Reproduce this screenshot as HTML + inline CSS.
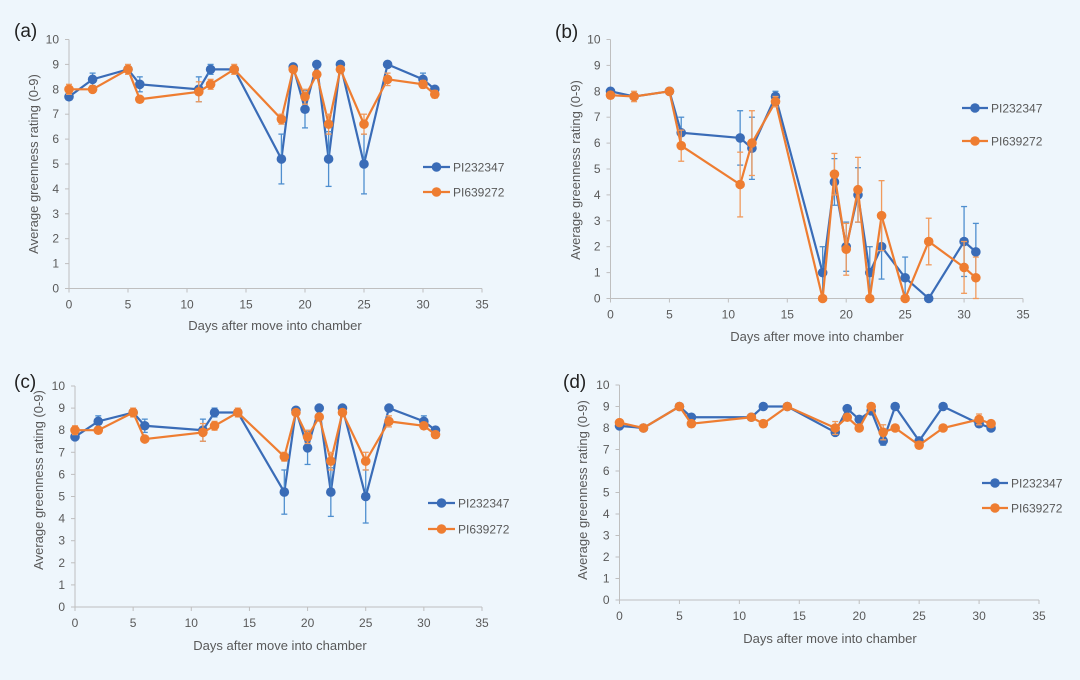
<!DOCTYPE html>
<html><head><meta charset="utf-8"><style>
html,body{margin:0;padding:0;background:#eef6fc;}
svg{display:block;font-family:"Liberation Sans",sans-serif;}
</style></head><body>
<svg id="fig" width="1080" height="680" viewBox="0 0 1080 680" xmlns="http://www.w3.org/2000/svg">
<rect width="1080" height="680" fill="#eef6fc"/>
</svg>
<script>
const days = [0,2,5,6,11,12,14,18,19,20,21,22,23,25,27,30,31];
const xTicks = [0,5,10,15,20,25,30,35];
const yTicks = [0,1,2,3,4,5,6,7,8,9,10];
const seriesNames = ["PI232347","PI639272"];
const aBlue = [7.7,8.4,8.8,8.2,8.0,8.8,8.8,5.2,8.9,7.2,9.0,5.2,9.0,5.0,9.0,8.4,8.0];
const aBlueErr = [0.1,0.25,0.1,0.3,0.5,0.2,0.1,1.0,0.1,0.75,0.1,1.1,0.1,1.2,0.1,0.25,0.1];
const aOrange = [8.0,8.0,8.8,7.6,7.9,8.2,8.8,6.8,8.8,7.7,8.6,6.6,8.8,6.6,8.4,8.2,7.8];
const aOrangeErr = [0.2,0.1,0.2,0.1,0.4,0.2,0.2,0.2,0.1,0.3,0.1,0.4,0.1,0.4,0.25,0.15,0.15];
const bBlue = [8.0,7.8,8.0,6.4,6.2,5.8,7.8,1.0,4.5,2.0,4.0,1.0,2.0,0.8,0,2.2,1.8];
const bBlueErr = [0.1,0.1,0.05,0.6,1.05,1.2,0.2,1.0,0.9,0.95,1.05,1.0,1.25,0.8,0,1.35,1.1];
const bOrange = [7.85,7.8,8.0,5.9,4.4,6.0,7.6,0,4.8,1.9,4.2,0,3.2,0,2.2,1.2,0.8];
const bOrangeErr = [0.05,0.2,0.05,0.6,1.25,1.25,0.2,0,0.8,1.0,1.25,0,1.35,0,0.9,1.0,0.8];
const cBlue = [7.7,8.4,8.8,8.2,8.0,8.8,8.8,5.2,8.9,7.2,9.0,5.2,9.0,5.0,9.0,8.4,8.0];
const cBlueErr = [0.1,0.25,0.1,0.3,0.5,0.2,0.1,1.0,0.1,0.75,0.1,1.1,0.1,1.2,0.1,0.25,0.1];
const cOrange = [8.0,8.0,8.8,7.6,7.9,8.2,8.8,6.8,8.8,7.7,8.6,6.6,8.8,6.6,8.4,8.2,7.8];
const cOrangeErr = [0.2,0.1,0.2,0.1,0.4,0.2,0.2,0.2,0.1,0.3,0.1,0.4,0.1,0.4,0.25,0.15,0.15];
const dBlue = [8.1,8.0,9.0,8.5,8.5,9.0,9.0,7.8,8.9,8.4,8.8,7.4,9.0,7.4,9.0,8.2,8.0];
const dBlueErr = [0.1,0.05,0.05,0.1,0.1,0.05,0.05,0.1,0.1,0.15,0.1,0.2,0.05,0.1,0.05,0.15,0.1];
const dOrange = [8.25,8.0,9.0,8.2,8.5,8.2,9.0,8.0,8.5,8.0,9.0,7.8,8.0,7.2,8.0,8.4,8.2];
const dOrangeErr = [0.1,0.05,0.05,0.1,0.1,0.15,0.05,0.3,0.15,0.15,0.05,0.35,0.05,0.15,0.05,0.25,0.15];

const NS="http://www.w3.org/2000/svg";
const svg=document.getElementById('fig');
function mk(tag,attrs,parent){const e=document.createElementNS(NS,tag);for(const k in attrs)e.setAttribute(k,attrs[k]);(parent||svg).appendChild(e);return e;}

const panels=[
 {id:'a',label:'(a)',lx:14,ly:37,x0:69,x35:482,y0:288.5,y10:39.5,blue:aBlue,be:aBlueErr,orange:aOrange,oe:aOrangeErr,leg:[423,450,167,192],xt:275,xty:330,ytx:38,yty:164},
 {id:'b',label:'(b)',lx:555,ly:38,x0:610.5,x35:1023,y0:298.5,y10:39.5,blue:bBlue,be:bBlueErr,orange:bOrange,oe:bOrangeErr,leg:[962,988,108,141],xt:817,xty:341,ytx:580,yty:170},
 {id:'c',label:'(c)',lx:14,ly:388,x0:75,x35:482,y0:607,y10:386,blue:cBlue,be:cBlueErr,orange:cOrange,oe:cOrangeErr,leg:[428,455,503,529],xt:280,xty:650,ytx:43,yty:480},
 {id:'d',label:'(d)',lx:563,ly:388,x0:619.5,x35:1039,y0:600,y10:385,blue:dBlue,be:dBlueErr,orange:dOrange,oe:dOrangeErr,leg:[982,1008,483,508],xt:830,xty:643,ytx:587,yty:490}
];
const BLUE='#3a6cb7', BLUEE='#4f8fcf', ORANGE='#ee7d31', ORANGEE='#f19a5c';

panels.forEach(p=>{
 const g=mk('g',{});
 
 
 const X=v=>p.x0+(p.x35-p.x0)*v/35;
 const Y=v=>p.y0-(p.y0-p.y10)*v/10;
 const t=mk('text',{x:p.lx,y:p.ly,'font-size':19,fill:'#222'},g);t.textContent=p.label;
 
 
 const ya=mk('line',{x1:p.x0,y1:p.y10,x2:p.x0,y2:p.y0,stroke:'#bfbfbf','stroke-width':1},g);
 
 
 const xa=mk('line',{x1:p.x0,y1:p.y0,x2:p.x35,y2:p.y0,stroke:'#bfbfbf','stroke-width':1},g);
 
 
 yTicks.forEach(v=>{
  mk('line',{x1:p.x0-4,y1:Y(v),x2:p.x0,y2:Y(v),stroke:'#bfbfbf'},g);
  const l=mk('text',{x:p.x0-10,y:Y(v)+4,'font-size':12,fill:'#595959','text-anchor':'end'},g);l.textContent=v;
  
  
 });
 xTicks.forEach(v=>{
  mk('line',{x1:X(v),y1:p.y0,x2:X(v),y2:p.y0+4,stroke:'#bfbfbf'},g);
  const l=mk('text',{x:X(v),y:p.y0+20,'font-size':12,fill:'#595959','text-anchor':'middle'},g);l.textContent=v;
  
  
 });
 const xt=mk('text',{x:p.xt,y:p.xty,'font-size':13,fill:'#595959','text-anchor':'middle'},g);xt.textContent='Days after move into chamber';
 
 
 const yt=mk('text',{x:0,y:0,'font-size':13,fill:'#595959','text-anchor':'middle',transform:`translate(${p.ytx},${p.yty}) rotate(-90)`},g);yt.textContent='Average greenness rating (0-9)';
 
 
 [[p.blue,p.be,BLUE,BLUEE,'pi232347'],[p.orange,p.oe,ORANGE,ORANGEE,'pi639272']].forEach(([vals,errs,col,ecol,nm])=>{
  const sg=mk('g',{},g);
  
  
  const pl=mk('polyline',{points:days.map((d,i)=>X(d)+','+Y(vals[i])).join(' '),fill:'none',stroke:col,'stroke-width':2.2},sg);
  
  
  days.forEach((d,i)=>{
   const e=errs[i];
   if(e>0){
    const lo=Math.max(0,vals[i]-e),hi=vals[i]+e;
    mk('line',{x1:X(d),y1:Y(lo),x2:X(d),y2:Y(hi),stroke:ecol,'stroke-width':1.3},sg);
    mk('line',{x1:X(d)-3,y1:Y(hi),x2:X(d)+3,y2:Y(hi),stroke:ecol,'stroke-width':1.3},sg);
    mk('line',{x1:X(d)-3,y1:Y(lo),x2:X(d)+3,y2:Y(lo),stroke:ecol,'stroke-width':1.3},sg);
   }
  });
  days.forEach((d,i)=>{
   const c=mk('circle',{cx:X(d),cy:Y(vals[i]),r:4.8,fill:col},sg);
   
   
  });
 });
 const [l1,l2,ly1,ly2]=p.leg;
 [[ly1,BLUE,seriesNames[0]],[ly2,ORANGE,seriesNames[1]]].forEach(([ly,col,name])=>{
  const lg=mk('g',{},g);
  
  
  mk('line',{x1:l1,y1:ly,x2:l2,y2:ly,stroke:col,'stroke-width':2.2},lg);
  mk('circle',{cx:(l1+l2)/2,cy:ly,r:4.8,fill:col},lg);
  const tx=mk('text',{x:l2+3,y:ly+4.5,'font-size':12,fill:'#595959'},lg);tx.textContent=name;
 });
});
</script>
</body></html>
